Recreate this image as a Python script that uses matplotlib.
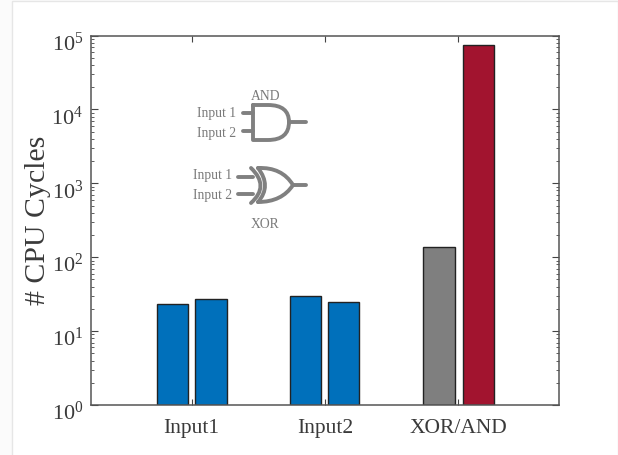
import numpy as np
from matplotlib import pyplot as plt
from matplotlib.patches import Rectangle
from matplotlib.path import Path
from matplotlib.patches import PathPatch
from matplotlib.ticker import LogLocator
from matplotlib.transforms import Affine2D, ScaledTranslation

plt.rcParams["font.family"] = ["Liberation Serif", "DejaVu Serif"]
plt.rcParams["mathtext.default"] = "regular"

# Values
groups = ["Input1", "Input2", "XOR/AND"]
group_pos = [1, 2, 3]
bar_pos = [0.855, 1.145, 1.855, 2.14, 2.855, 3.15]
cycles = [22.6, 26.6, 28.5, 24, 136, 74000]
bar_colors = ["#0070BB", "#0070BB", "#0070BB", "#0070BB", "#7F7F7F", "#A2142F"]

W, H = 618, 455
fig = plt.figure(figsize=(W / 100, H / 100), dpi=100)
fig.patch.set_facecolor("#FBFBFB")

# Pixel coordinates with the origin at the top left, same as the reference
px = Affine2D().scale(1, -1).translate(0, H)

# The white panel behind everything, has to stay under the axes
fig.add_artist(Rectangle((12, 1), W - 12, H, transform=px, facecolor="white",
                         edgecolor="#E6E6E6", linewidth=1, zorder=-1))

ax = fig.add_axes([91 / W, 1 - 405 / H, (559 - 91) / W, (405 - 35.5) / H])
ax.bar(bar_pos, cycles, width=0.235, color=bar_colors, edgecolor="#222222", linewidth=1, bottom=1)
ax.set_yscale("log")
ax.set_ylim(1, 1e5)
ax.set_xlim(0.245, 3.755)
ax.set_xticks(group_pos)
ax.set_xticklabels(groups, fontsize=15.5, color="#3A3A3A")
ax.set_ylabel("# CPU Cycles", fontsize=21.5, color="#3A3A3A")
ax.yaxis.set_label_coords(-0.086, 0.5)
ax.yaxis.set_minor_locator(LogLocator(base=10, subs=np.arange(2, 10), numticks=50))

ax.tick_params(axis="x", which="major", direction="in", top=True, length=4, width=0.8,
               color="#444444", pad=10)
ax.tick_params(axis="y", which="major", direction="in", right=True, length=5, width=0.8,
               color="#444444", labelsize=16, labelcolor="#3A3A3A", pad=5.5)
ax.tick_params(axis="y", which="minor", direction="in", right=True, length=2.5, width=0.6,
               color="#444444")
for spine in ax.spines.values():
    spine.set_color("#555555")
    spine.set_linewidth(1.1)

# The decade labels sit a bit lower than their ticks in the reference
shift = ScaledTranslation(0, -0.06, fig.dpi_scale_trans)
for label in ax.get_yticklabels():
    label.set_transform(label.get_transform() + shift)

# Logic gate sketch, drawn in pixels on top of the axes
gate = "#808080"
def stroke(verts, codes=None):
    path = Path(verts, codes)
    fig.add_artist(PathPatch(path, transform=px, facecolor="none", edgecolor=gate,
                             linewidth=2.8, capstyle="round", joinstyle="round", zorder=5))

def curve3(p0, p1, p2):
    stroke([p0, p1, p2], [Path.MOVETO, Path.CURVE3, Path.CURVE3])

# AND gate
stroke([(243, 113), (253, 113)])
stroke([(243, 131), (253, 131)])
stroke([(289, 122), (306, 122)])
stroke([(253, 105), (253, 140), (268, 140), (289, 140), (289, 122), (289, 105), (268, 105), (253, 105)],
       [Path.MOVETO, Path.LINETO, Path.LINETO, Path.CURVE3, Path.CURVE3, Path.CURVE3, Path.CURVE3, Path.LINETO])

# XOR gate
stroke([(238, 177), (253, 177)])
stroke([(238, 194), (253, 194)])
stroke([(293, 185), (306, 185)])
curve3((251, 168), (270, 186), (251, 203))
curve3((258, 168), (272, 186), (258, 202))
curve3((258, 168), (282, 167), (293, 185))
curve3((258, 202), (282, 202), (293, 185))

labels = [("AND", 266, 96, "center"), ("Input 1", 236, 114, "right"), ("Input 2", 236, 133, "right"),
          ("Input 1", 232, 176, "right"), ("Input 2", 232, 195, "right"), ("XOR", 265, 224, "center")]
for txt, x, y, ha in labels:
    fig.text(x / W, 1 - y / H, txt, fontsize=9.8, color="#7A7A7A", ha=ha, va="center")

fig.savefig("out.png", dpi=100, facecolor=fig.get_facecolor())
